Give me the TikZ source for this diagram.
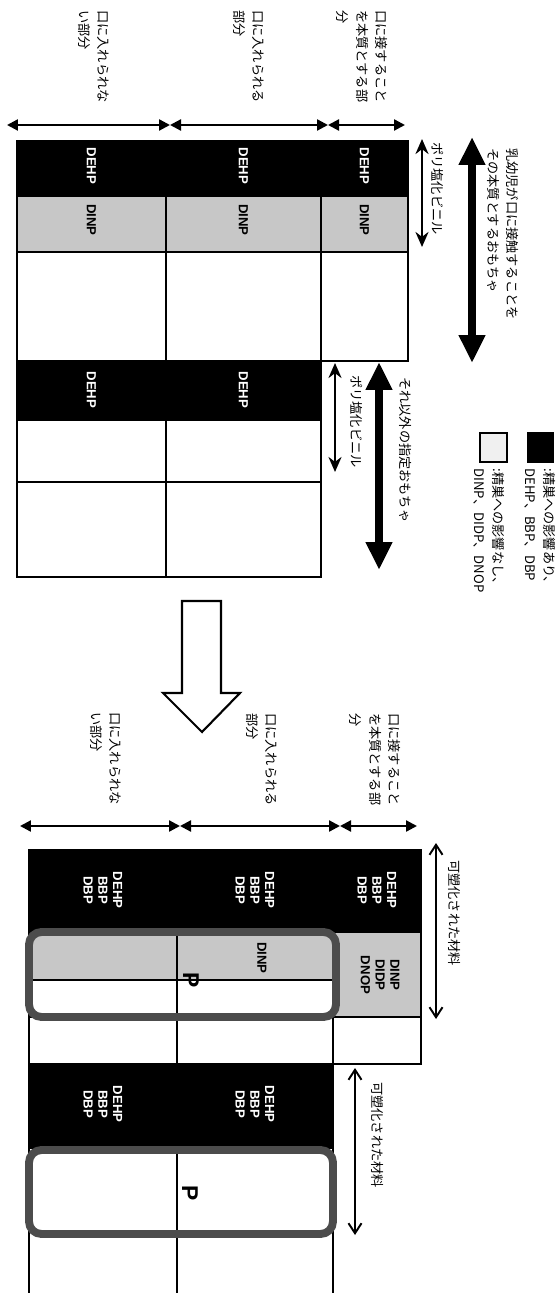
\documentclass[tikz,border=0pt]{standalone}
\usepackage{fontspec}
\setmainfont{Noto Sans CJK JP}
\newfontfamily\latin{Liberation Sans}
\usetikzlibrary{arrows.meta, positioning}

\begin{document}
\begin{tikzpicture}[
    x=0.02cm, y=-0.02cm,
    cell/.style={draw, line width=0.7pt},
    dark/.style={cell, fill=black},
    stipple/.style={cell, fill=black!22},
    vlab/.style={rotate=-90, anchor=west, align=left, inner sep=0pt, font=\fontsize{7.5}{11}\selectfont},
    celltxt/.style={rotate=-90, align=center, inner sep=0pt, font=\latin\bfseries\fontsize{7.5}{8.4}\selectfont},
    darktxt/.style={celltxt, text=white},
    dimarrow/.style={{Triangle[length=0.22cm,width=0.22cm]}-{Triangle[length=0.22cm,width=0.22cm]}, line width=1.3pt},
    bigarrow/.style={{Triangle[length=0.56cm,width=0.5cm]}-{Triangle[length=0.56cm,width=0.5cm]}, line width=4pt},
    thinarrow/.style={{Stealth[length=0.3cm,width=0.26cm]}-{Stealth[length=0.3cm,width=0.26cm]}, line width=1.6pt},
    barbarrow/.style={{Straight Barb[length=0.2cm,width=0.26cm]}-{Straight Barb[length=0.2cm,width=0.26cm]}, line width=1.1pt},
    pbox/.style={draw=black!70, line width=4.5pt, line join=round, rounded corners=0.25cm}
]
\useasboundingbox (0,0) rectangle (559,1293);

% legend
\draw[dark] (528,433) rectangle (553,462);
\draw[cell, fill=black!6] (480,433) rectangle (507,462);
\node[vlab] (legdark) at (540,468) {:精巣への影響あり、\\DEHP、BBP、DBP};
\node[vlab] (leglight) at (489,468) {:精巣への影響なし、\\DINP、DIDP、DNOP};

% upper table
\foreach \xa/\xb/\c in {17/166/C,166/321/B,321/408/A}{
  \draw[dark] (\xa,141) rectangle (\xb,196);
  \draw[stipple] (\xa,196) rectangle (\xb,252);
  \draw[cell] (\xa,252) rectangle (\xb,361);
  \node[darktxt] (up\c) at ({(\xa+\xb)/2},166) {DEHP};
  \node[celltxt] (upd\c) at ({(\xa+\xb)/2},220) {DINP};
}
\foreach \xa/\xb/\c in {17/166/C,166/321/B}{
  \draw[dark] (\xa,361) rectangle (\xb,420);
  \draw[cell] (\xa,420) rectangle (\xb,482);
  \draw[cell] (\xa,482) rectangle (\xb,577);
  \node[darktxt] (uptwo\c) at ({(\xa+\xb)/2},390) {DEHP};
}

% column headings, upper
\node[vlab] (labA) at (362,10) {口に接すること\\を本質とする部\\分};
\node[vlab] (labB) at (249,10) {口に入れられる\\部分};
\node[vlab] (labC) at (94,10) {口に入れられな\\い部分};
\foreach \i/\xa/\xb in {1/7/170,2/170/328,3/328/405}{
  \coordinate (hu\i-l) at (\xa,125);
  \coordinate (hu\i-r) at (\xb,125);
  \draw[dimarrow] (hu\i-l) -- (hu\i-r);
}

% right side, upper
\node[vlab] (pvc1) at (438,142) {ポリ塩化ビニル};
\node[vlab] (toy1) at (503,148) {乳幼児が口に接触することを\\その本質とするおもちゃ};
\node[vlab] (pvc2) at (357,375) {ポリ塩化ビニル};
\node[vlab] (toy2) at (405,377) {それ以外の指定おもちゃ};
\coordinate (pvc1-t) at (422,139);
\coordinate (pvc1-b) at (422,247);
\coordinate (toy1-t) at (472,137);
\coordinate (toy1-b) at (472,363);
\coordinate (pvc2-t) at (335,363);
\coordinate (pvc2-b) at (335,472);
\coordinate (toy2-t) at (379,362);
\coordinate (toy2-b) at (379,570);
\draw[thinarrow] (pvc1-t) -- (pvc1-b);
\draw[bigarrow] (toy1-t) -- (toy1-b);
\draw[thinarrow] (pvc2-t) -- (pvc2-b);
\draw[bigarrow] (toy2-t) -- (toy2-b);

% hollow arrow
\draw[line width=1.2pt] (182,601) -- (221,601) -- (221,693) -- (240,693) -- (202,732)
  -- (163,693) -- (182,693) -- cycle;

% column headings, lower
\node[vlab] (lowlabA) at (375,713) {口に接すること\\を本質とする部\\分};
\node[vlab] (lowlabB) at (262,713) {口に入れられる\\部分};
\node[vlab] (lowlabC) at (106,712) {口に入れられな\\い部分};
\foreach \i/\xa/\xb in {1/20/180,2/180/340,3/340/417}{
  \coordinate (hl\i-l) at (\xa,826);
  \coordinate (hl\i-r) at (\xb,826);
  \draw[dimarrow] (hl\i-l) -- (hl\i-r);
}

% lower table
\foreach \xa/\xb/\c in {29/177/C,177/333/B,333/421/A}{
  \draw[dark] (\xa,850) rectangle (\xb,932);
  \node[darktxt] (low\c) at ({(\xa+\xb)/2},890) {DEHP\\BBP\\DBP};
}
\draw[stipple] (333,932) rectangle (421,1017);
\draw[cell] (333,1017) rectangle (421,1064);
\node[celltxt] (lowdA) at (380,975) {DINP\\DIDP\\DNOP};
\foreach \xa/\xb in {29/177,177/333}{
  \draw[stipple] (\xa,932) rectangle (\xb,980);
  \draw[cell] (\xa,980) rectangle (\xb,1017);
  \draw[cell] (\xa,1017) rectangle (\xb,1064);
}
\node[celltxt] (lowdB) at (262,958) {DINP};
\foreach \xa/\xb/\c in {29/177/C,177/333/B}{
  \draw[dark] (\xa,1064) rectangle (\xb,1148);
  \node[darktxt] (lowtwo\c) at ({(\xa+\xb)/2},1104) {DEHP\\BBP\\DBP};
  \draw[cell] (\xa,1293) -- (\xa,1148) -- (\xb,1148) -- (\xb,1293);
}
\draw[pbox] (29,932) rectangle (336,1017);
\draw[pbox] (29,1150) rectangle (333,1234);
\node[rotate=-90, font=\latin\bfseries\fontsize{13}{13}\selectfont, inner sep=0pt] (p1) at (191,980) {P};
\node[rotate=-90, font=\latin\bfseries\fontsize{13}{13}\selectfont, inner sep=0pt] (p2) at (190,1193) {P};

% right side, lower
\node[vlab] (plast1) at (455,860) {可塑化された材料};
\node[vlab] (plast2) at (378,1082) {可塑化された材料};
\coordinate (plast1-t) at (436,843);
\coordinate (plast1-b) at (436,1019);
\coordinate (plast2-t) at (355,1068);
\coordinate (plast2-b) at (355,1235);
\draw[barbarrow] (plast1-t) -- (plast1-b);
\draw[barbarrow] (plast2-t) -- (plast2-b);

\end{tikzpicture}
\end{document}
